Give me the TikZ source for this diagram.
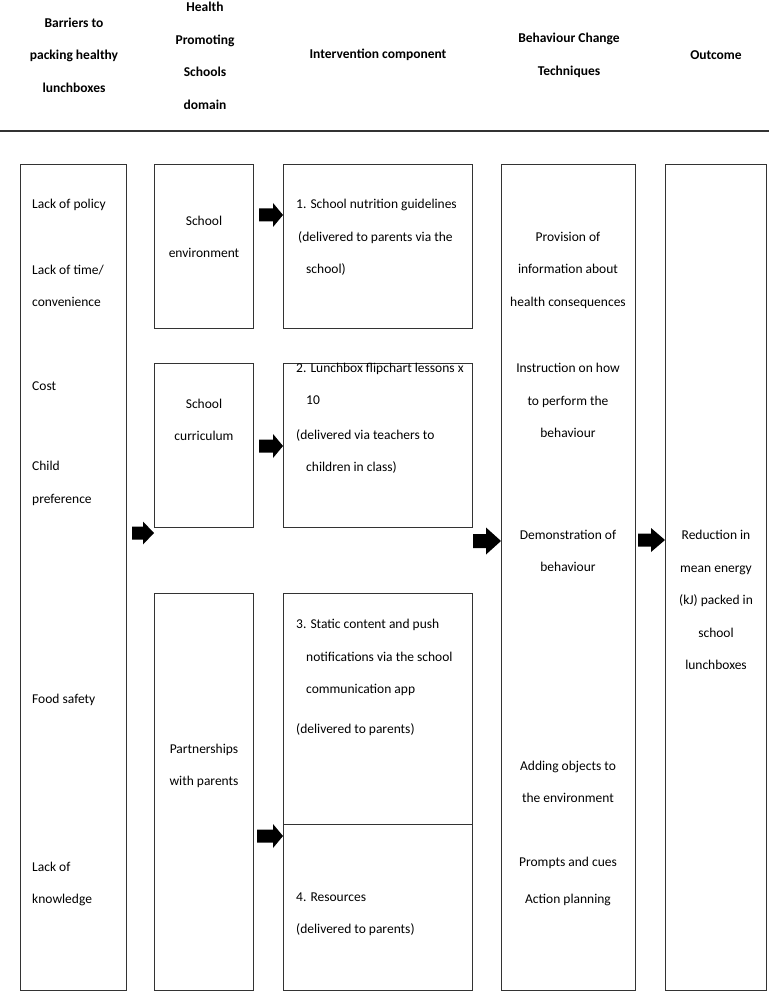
\documentclass[tikz,border=0pt]{standalone}
\usepackage{fontspec}
\setmainfont{Carlito}
\usetikzlibrary{calc}
\newcommand\blkarrow[5]{\fill[black] ($(#1)+(0,-#3)$) -- ($(#2)+(-#5,-#3)$) -- ($(#2)+(-#5,-#4)$) -- (#2) -- ($(#2)+(-#5,#4)$) -- ($(#2)+(-#5,#3)$) -- ($(#1)+(0,#3)$) -- cycle;}
\begin{document}
\begin{tikzpicture}[x=1pt,y=-1pt,
  box/.style={draw=black!80, line width=1.1pt, inner sep=0pt, anchor=north west},
  txt/.style={inner sep=0pt, font=\fontsize{13.5pt}{32.5pt}\selectfont, align=center},
  ltxt/.style={inner sep=0pt, font=\fontsize{13.5pt}{32.5pt}\selectfont, align=left, anchor=west},
  head/.style={inner sep=0pt, font=\fontsize{13.5pt}{32.5pt}\selectfont\bfseries, align=center},
]
\useasboundingbox (0,0) rectangle (769,992);

% header
\node[head] (h1) at (74,55) {Barriers to\\packing healthy\\lunchboxes};
\node[head] (h2) at (205,56) {Health\\Promoting\\Schools\\domain};
\node[head] (h3) at (378,55) {Intervention component};
\node[head] (h4) at (569,55.5) {Behaviour Change\\Techniques};
\node[head] (h5) at (716,55) {Outcome};
\coordinate (rl) at (0,131);
\coordinate (rr) at (769,131);
\draw[line width=2pt, black!80] (rl) -- (rr);

% boxes
\node[box, minimum width=106pt, minimum height=826pt] (c1) at (20,164) {};
\node[box, minimum width=99pt, minimum height=164pt] (c2a) at (154,164) {};
\node[box, minimum width=99pt, minimum height=164pt] (c2b) at (154,363) {};
\node[box, minimum width=99pt, minimum height=397pt] (c2c) at (154,593) {};
\node[box, minimum width=189pt, minimum height=164pt] (c3a) at (283,164) {};
\node[box, minimum width=189pt, minimum height=164pt] (c3b) at (283,363) {};
\node[box, minimum width=189pt, minimum height=231pt] (c3c) at (283,593) {};
\node[box, minimum width=189pt, minimum height=166pt] (c3d) at (283,824) {};
\node[box, minimum width=134pt, minimum height=826pt] (c4) at (501,164) {};
\node[box, minimum width=101pt, minimum height=826pt] (c5) at (665,164) {};

% column 1
\node[ltxt] (b1) at (32,205) {Lack of policy};
\node[ltxt] (b2) at (32,286) {Lack of time/\\convenience};
\node[ltxt] (b3) at (32,386) {Cost};
\node[ltxt] (b4) at (32,483.5) {Child\\preference};
\node[ltxt] (b5) at (32,700) {Food safety};
\node[ltxt] (b6) at (32,884) {Lack of\\knowledge};

% column 2
\node[txt] (d1) at (204,237) {School\\environment};
\node[txt] (d2) at (204,420) {School\\curriculum};
\node[txt] (d3) at (204,766) {Partnerships\\with parents};

% column 3
\node[ltxt] (i1) at (296,237.5) {1. School nutrition guidelines\\\hspace*{2pt}(delivered to parents via the\\\hspace*{10pt}school)};
\node[ltxt] (i2) at (296,418) {2. Lunchbox flipchart lessons x\\\hspace*{10pt}10\\[2pt](delivered via teachers to\\\hspace*{10pt}children in class)};
\node[ltxt] (i3) at (296,677.5) {3. Static content and push\\\hspace*{10pt}notifications via the school\\\hspace*{10pt}communication app\\[7pt](delivered to parents)};
\node[ltxt] (i4) at (296,914) {4. Resources\\(delivered to parents)};

% column 4
\node[txt] (m1) at (568,270) {Provision of\\information about\\health consequences};
\node[txt] (m2) at (568,400.5) {Instruction on how\\to perform the\\behaviour};
\node[txt] (m3) at (568,551) {Demonstration of\\behaviour};
\node[txt] (m4) at (568,782) {Adding objects to\\the environment};
\node[txt] (m5) at (568,863) {Prompts and cues};
\node[txt] (m6) at (568,900) {Action planning};

% column 5
\node[txt] (o1) at (716,600) {Reduction in\\mean energy\\(kJ) packed in\\school\\lunchboxes};

% block arrows
\coordinate (s1) at (259,215);  \coordinate (e1) at (c3a.west |- s1);
\coordinate (s2) at (259,446);  \coordinate (e2) at (c3b.west |- s2);
\coordinate (s3) at (257,836);  \coordinate (e3) at (c3d.west |- s3);
\coordinate (s4) at (132,533);  \coordinate (e4) at (c2c.west |- s4);
\coordinate (s5) at (473,541);  \coordinate (e5) at (c4.west |- s5);
\coordinate (s6) at (638,540);  \coordinate (e6) at (c5.west |- s6);
\blkarrow{s1}{e1}{6.5}{12}{10}
\blkarrow{s2}{e2}{6.5}{12}{10}
\blkarrow{s3}{e3}{6.5}{12}{10}
\blkarrow{s4}{e4}{6.5}{11.5}{11}
\blkarrow{s5}{e5}{7}{13.5}{15}
\blkarrow{s6}{e6}{6.5}{12}{14}
\end{tikzpicture}
\end{document}
